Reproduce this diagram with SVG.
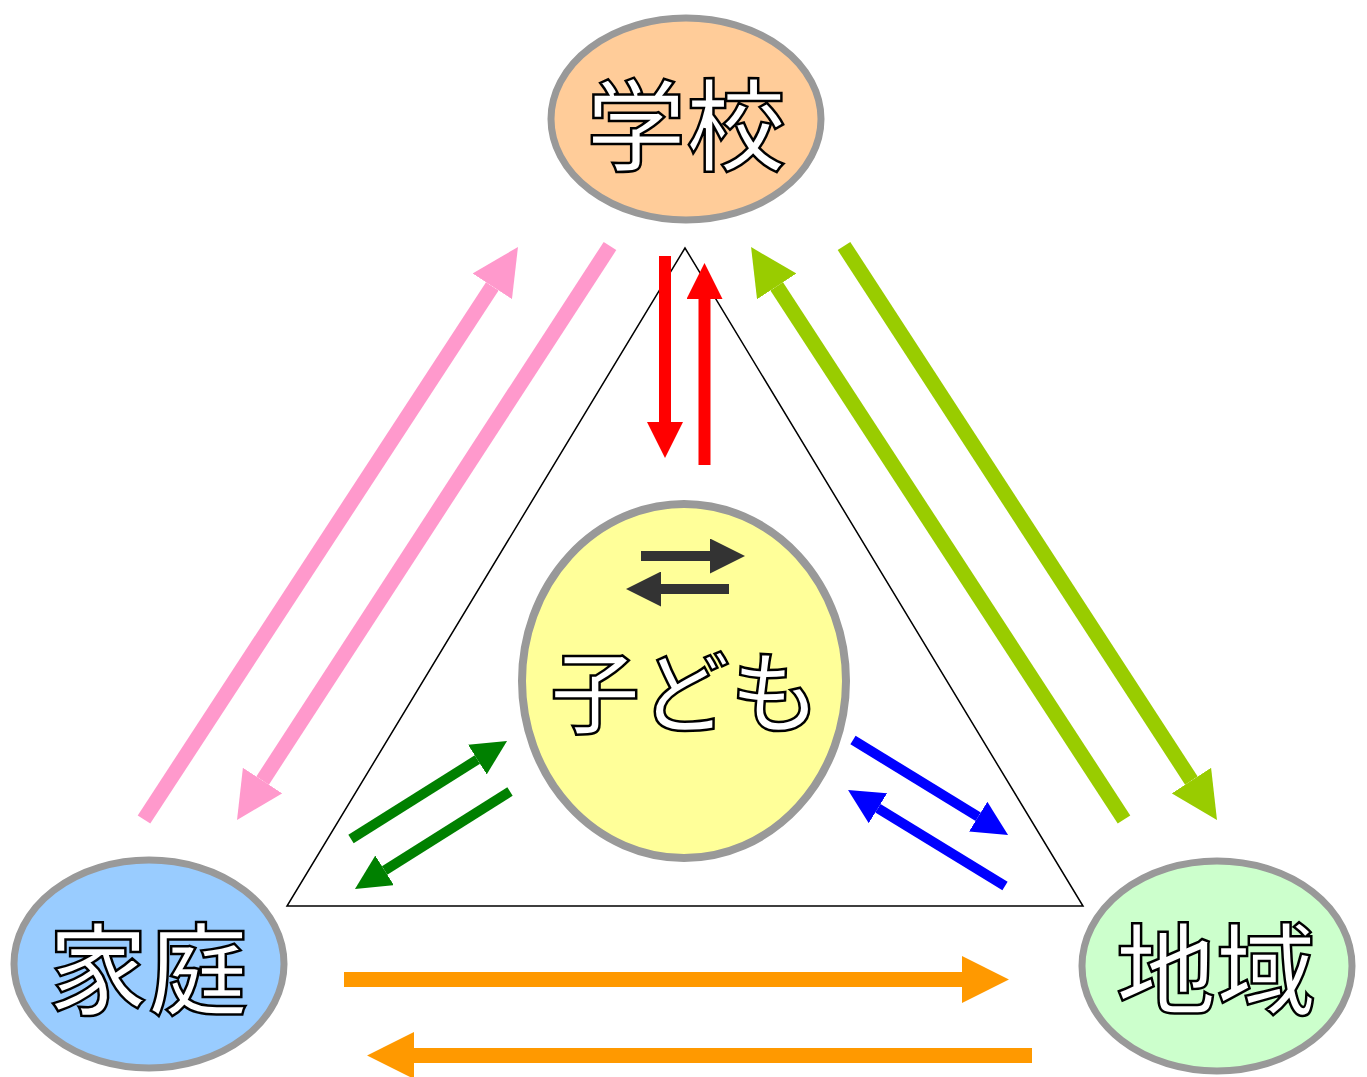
<svg xmlns="http://www.w3.org/2000/svg" width="1367" height="1077" viewBox="0 0 1367 1077">
<style>
.node ellipse{stroke:#999999;stroke-width:7}
.lbl{font-family:"Noto Sans CJK JP","Noto Sans CJK SC",sans-serif;font-weight:500;fill:#ffffff;stroke:#000000;stroke-width:2.5;text-anchor:middle}
.a{fill:none;stroke-linecap:butt}
</style>
<defs>
<marker id="mPink" viewBox="0 0 10 10" refX="0" refY="5" markerWidth="3.13" markerHeight="3.13" orient="auto"><path d="M0,0 L10,5 L0,10 z" fill="#FF99CC"/></marker>
<marker id="mLime" viewBox="0 0 10 10" refX="0" refY="5" markerWidth="3.13" markerHeight="3.13" orient="auto"><path d="M0,0 L10,5 L0,10 z" fill="#99CC00"/></marker>
<marker id="mOrange" viewBox="0 0 10 10" refX="0" refY="5" markerWidth="3.13" markerHeight="3.13" orient="auto"><path d="M0,0 L10,5 L0,10 z" fill="#FF9900"/></marker>
<marker id="mRed" viewBox="0 0 10 10" refX="0" refY="5" markerWidth="3" markerHeight="3" orient="auto"><path d="M0,0 L10,5 L0,10 z" fill="#FF0000"/></marker>
<marker id="mGreen" viewBox="0 0 10 10" refX="0" refY="5" markerWidth="3.5" markerHeight="3.5" orient="auto"><path d="M0,0 L10,5 L0,10 z" fill="#008000"/></marker>
<marker id="mBlue" viewBox="0 0 10 10" refX="0" refY="5" markerWidth="3.5" markerHeight="3.5" orient="auto"><path d="M0,0 L10,5 L0,10 z" fill="#0000FF"/></marker>
<marker id="mDark" viewBox="0 0 10 10" refX="0" refY="5" markerWidth="3.5" markerHeight="3.5" orient="auto"><path d="M0,0 L10,5 L0,10 z" fill="#333333"/></marker>
</defs>
<rect width="1367" height="1077" fill="#ffffff"/>
<polygon id="triangle" points="685,248 287,906 1083,906" fill="none" stroke="#000000" stroke-width="1.5"/>
<g id="school" class="node"><ellipse cx="686" cy="119" rx="135" ry="101" fill="#FFCC99"/><text class="lbl" x="686" y="163" font-size="100">学校</text></g>
<g id="child" class="node"><ellipse cx="684" cy="681" rx="162" ry="177" fill="#FFFF99" style="stroke-width:8"/><text class="lbl" x="685" y="726" font-size="90">子ども</text></g>
<g id="family" class="node"><ellipse cx="149" cy="964" rx="135" ry="104" fill="#99CCFF"/><text class="lbl" x="148" y="1007" font-size="100">家庭</text></g>
<g id="region" class="node"><ellipse cx="1217" cy="966" rx="135" ry="105" fill="#CCFFCC"/><text class="lbl" x="1216" y="1007" font-size="100">地域</text></g>
<g id="connectors" class="a">
<line x1="144" y1="819.5" x2="492.3" y2="286.3" stroke="#FF99CC" stroke-width="15" marker-end="url(#mPink)"/>
<line x1="610" y1="246" x2="262.6" y2="780.6" stroke="#FF99CC" stroke-width="15" marker-end="url(#mPink)"/>
<line x1="1124" y1="819.5" x2="776.7" y2="286.4" stroke="#99CC00" stroke-width="15" marker-end="url(#mLime)"/>
<line x1="844" y1="246" x2="1191.4" y2="780.6" stroke="#99CC00" stroke-width="15" marker-end="url(#mLime)"/>
<line x1="344" y1="979.5" x2="962" y2="979.5" stroke="#FF9900" stroke-width="15" marker-end="url(#mOrange)"/>
<line x1="1032" y1="1055.5" x2="414" y2="1055.5" stroke="#FF9900" stroke-width="15" marker-end="url(#mOrange)"/>
<line x1="665" y1="256" x2="665" y2="422" stroke="#FF0000" stroke-width="12" marker-end="url(#mRed)"/>
<line x1="704.5" y1="465" x2="704.5" y2="299" stroke="#FF0000" stroke-width="12" marker-end="url(#mRed)"/>
<line x1="351" y1="839" x2="477.4" y2="759.6" stroke="#008000" stroke-width="10" marker-end="url(#mGreen)"/>
<line x1="510" y1="791.5" x2="384.6" y2="870.4" stroke="#008000" stroke-width="10" marker-end="url(#mGreen)"/>
<line x1="853" y1="740" x2="978.2" y2="816.7" stroke="#0000FF" stroke-width="10" marker-end="url(#mBlue)"/>
<line x1="1005" y1="886" x2="877.9" y2="808.3" stroke="#0000FF" stroke-width="10" marker-end="url(#mBlue)"/>
<line x1="641" y1="556" x2="710" y2="556" stroke="#333333" stroke-width="10" marker-end="url(#mDark)"/>
<line x1="729" y1="589" x2="661" y2="589" stroke="#333333" stroke-width="10" marker-end="url(#mDark)"/>
</g>
</svg>
